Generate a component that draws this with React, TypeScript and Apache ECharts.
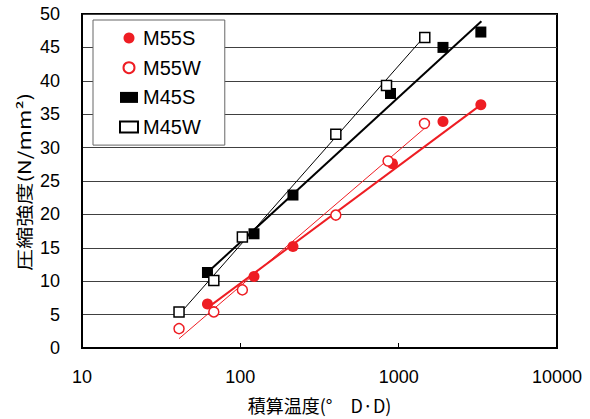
import React, { useEffect, useRef } from "react";
import * as echarts from "echarts";

// Legend / series names
const seriesNames = ["M55S", "M55W", "M45S", "M45W"];

// Measured points (x: 積算温度, y: 圧縮強度)
const m55sX = [62, 122, 215, 914, 1905, 3304];
const m55sY = [6.6, 10.7, 15.2, 27.6, 33.9, 36.4];
const m55wX = [41, 68, 103, 401, 857, 1455];
const m55wY = [2.9, 5.4, 8.7, 19.9, 28.0, 33.6];
const m45sX = [62, 122, 215, 888, 1905, 3304];
const m45sY = [11.3, 17.1, 22.9, 38.1, 45.0, 47.3];
const m45wX = [41, 68, 103, 401, 838, 1462];
const m45wY = [5.4, 10.1, 16.6, 32.0, 39.3, 46.5];

// Trend lines (end points)
const m55sTrendX = [62, 3300];
const m55sTrendY = [6.0, 36.4];
const m55wTrendX = [41, 1443];
const m55wTrendY = [1.4, 32.8];
const m45sTrendX = [60, 3330];
const m45sTrendY = [11.0, 48.9];
const m45wTrendX = [41, 1500];
const m45wTrendY = [5.0, 47.0];

// Axis
const xMin = 10;
const xMax = 10000;
const yMin = 0;
const yMax = 50;
const yStep = 5;

const xName = "積算温度(°　D·D)";
const yName = "圧縮強度(N/mm²)";

const RED = "#ee1d23";
const FONT = '"Liberation Sans", Arial, "Noto Sans CJK JP", sans-serif';
const CJK = '"Noto Sans CJK JP", "Liberation Sans", sans-serif';

const zip = (xs: number[], ys: number[]) => xs.map((x, i) => [x, ys[i]]);

export default function App() {
  const ref = useRef<HTMLDivElement>(null);
  useEffect(() => {
    if (!ref.current) return;
    const chart = echarts.init(ref.current, undefined, { renderer: "svg" });
    const trend = (name: string, xs: number[], ys: number[], color: string, width: number) => ({
      name,
      type: "line",
      data: zip(xs, ys),
      symbol: "none",
      showSymbol: false,
      silent: true,
      z: 2,
      lineStyle: { color, width },
    });
    chart.setOption({
      animation: false,
      backgroundColor: "#fff",
      textStyle: { fontFamily: FONT },
      grid: {
        left: 82,
        right: 33,
        top: 14,
        bottom: 70,
        show: true,
        borderColor: "#000",
        borderWidth: 2,
        backgroundColor: "transparent",
      },
      xAxis: {
        type: "log",
        logBase: 10,
        min: xMin,
        max: xMax,
        name: xName,
        nameLocation: "middle",
        nameGap: 48,
        nameTextStyle: { fontSize: 18, color: "#000", fontFamily: CJK },
        axisLine: { show: true, lineStyle: { color: "#000", width: 2 } },
        axisTick: { show: true, inside: true, length: 5, lineStyle: { color: "#000", width: 1 } },
        minorTick: { show: false },
        axisLabel: {
          fontSize: 18,
          color: "#000",
          margin: 20,
          fontFamily: FONT,
          formatter: (v: number) => String(Math.round(v)),
        },
        splitLine: { show: false },
      },
      yAxis: {
        type: "value",
        min: yMin,
        max: yMax,
        interval: yStep,
        axisLine: { show: true, lineStyle: { color: "#000", width: 2 } },
        axisTick: { show: false },
        axisLabel: { fontSize: 18, color: "#000", margin: 22, fontFamily: FONT },
        splitLine: { show: true, lineStyle: { color: "#404040", width: 1 } },
      },
      legend: {
        data: seriesNames,
        orient: "vertical",
        left: 93,
        top: 20,
        padding: [8, 24, 8, 26],
        itemWidth: 18,
        itemHeight: 11,
        itemGap: 9.7,
        selectedMode: false,
        backgroundColor: "#fff",
        borderColor: "#666",
        borderWidth: 1,
        textStyle: { fontSize: 20, lineHeight: 20, color: "#000", fontFamily: FONT },
      },
      graphic: [
        {
          type: "text",
          x: 23.5,
          y: 182,
          rotation: Math.PI / 2,
          scaleX: 1.3,
          style: {
            text: yName,
            fontSize: 17,
            fill: "#000",
            textAlign: "center",
            textVerticalAlign: "middle",
            fontFamily: CJK,
          },
        },
      ],
      series: [
        trend("M55W trend", m55wTrendX, m55wTrendY, RED, 1),
        trend("M55S trend", m55sTrendX, m55sTrendY, RED, 2),
        trend("M45W trend", m45wTrendX, m45wTrendY, "#000", 1),
        trend("M45S trend", m45sTrendX, m45sTrendY, "#000", 2),
        {
          name: "M55S",
          type: "scatter",
          data: zip(m55sX, m55sY),
          symbol: "circle",
          symbolSize: 11,
          z: 3,
          itemStyle: { color: RED, opacity: 1 },
        },
        {
          name: "M55W",
          type: "scatter",
          data: zip(m55wX, m55wY),
          symbol: "circle",
          symbolSize: 10,
          z: 3,
          itemStyle: { color: "#fff", borderColor: RED, borderWidth: 1.5, opacity: 1 },
        },
        {
          name: "M45S",
          type: "scatter",
          data: zip(m45sX, m45sY),
          symbol: "rect",
          symbolSize: 11,
          z: 3,
          itemStyle: { color: "#000", opacity: 1 },
        },
        {
          name: "M45W",
          type: "scatter",
          data: zip(m45wX, m45wY),
          symbol: "rect",
          symbolSize: 10,
          z: 3,
          itemStyle: { color: "#fff", borderColor: "#000", borderWidth: 1.5, opacity: 1 },
        },
      ],
    });
    return () => chart.dispose();
  }, []);
  return (
    <div
      ref={ref}
      style={{ position: "fixed", left: 0, top: 0, width: 590, height: 419 }}
    />
  );
}
